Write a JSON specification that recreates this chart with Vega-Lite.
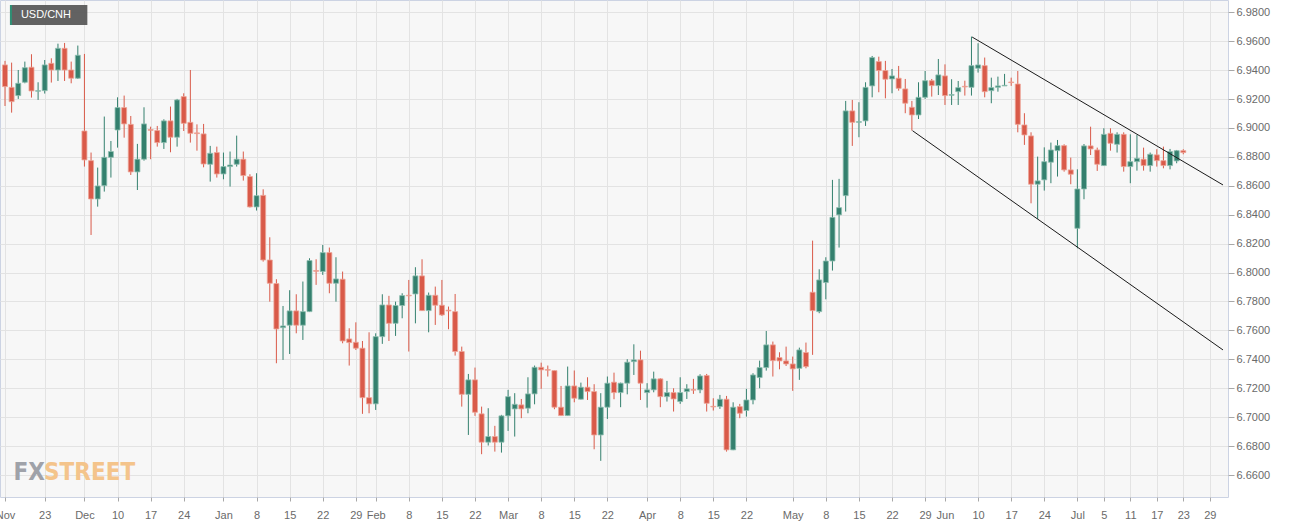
{
  "$schema": "https://vega.github.io/schema/vega-lite/v6.json",
  "width": 1228,
  "height": 497,
  "autosize": "none",
  "padding": {"left": 0, "top": 0, "right": 71, "bottom": 31},
  "background": "#ffffff",
  "config": {
    "view": {"fill": "#f7f7f7", "stroke": "#ccd3e3", "strokeWidth": 1},
    "axis": {"labelFont": "Liberation Sans", "labelFontSize": 11, "labelColor": "#6a6a6a", "gridColor": "#e3e3e3", "gridWidth": 1, "domain": false, "tickColor": "#a8a8a8", "title": null, "labelOverlap": false, "tickCount": 200},
    "axisX": {"labelFlush": true, "labelFlushOffset": -2, "tickSize": 4, "labelPadding": 8},
    "axisY": {"tickSize": 6, "labelPadding": 2}
  },
  "layer": [
    {
      "data": {
        "values": [
          {"i":0,"o":6.9436,"h":6.9464,"l":6.9152,"c":6.9286},
          {"i":1,"o":6.9281,"h":6.9452,"l":6.9106,"c":6.9182},
          {"i":2,"o":6.9224,"h":6.9401,"l":6.9201,"c":6.9309},
          {"i":3,"o":6.9316,"h":6.9459,"l":6.9309,"c":6.9417},
          {"i":4,"o":6.9420,"h":6.9510,"l":6.9210,"c":6.9256},
          {"i":5,"o":6.9254,"h":6.9316,"l":6.9194,"c":6.9258},
          {"i":6,"o":6.9258,"h":6.9470,"l":6.9238,"c":6.9436},
          {"i":7,"o":6.9447,"h":6.9482,"l":6.9314,"c":6.9401},
          {"i":8,"o":6.9401,"h":6.9583,"l":6.9325,"c":6.9551},
          {"i":9,"o":6.9551,"h":6.9588,"l":6.9325,"c":6.9401},
          {"i":10,"o":6.9401,"h":6.9459,"l":6.9309,"c":6.9344},
          {"i":11,"o":6.9344,"h":6.9570,"l":6.9339,"c":6.9503},
          {"i":12,"o":6.8979,"h":6.9512,"l":6.8733,"c":6.8779},
          {"i":13,"o":6.8774,"h":6.8830,"l":6.8260,"c":6.8509},
          {"i":14,"o":6.8509,"h":6.8726,"l":6.8456,"c":6.8599},
          {"i":15,"o":6.8601,"h":6.9079,"l":6.8560,"c":6.8797},
          {"i":16,"o":6.8797,"h":6.8910,"l":6.8657,"c":6.8837},
          {"i":17,"o":6.8986,"h":6.9212,"l":6.8864,"c":6.9141},
          {"i":18,"o":6.9141,"h":6.9224,"l":6.8933,"c":6.9028},
          {"i":19,"o":6.9025,"h":6.9083,"l":6.8675,"c":6.8696},
          {"i":20,"o":6.8696,"h":6.8890,"l":6.8571,"c":6.8784},
          {"i":21,"o":6.8784,"h":6.9143,"l":6.8774,"c":6.9028},
          {"i":22,"o":6.8989,"h":6.9009,"l":6.8784,"c":6.8984},
          {"i":23,"o":6.8982,"h":6.9014,"l":6.8871,"c":6.8899},
          {"i":24,"o":6.8899,"h":6.9060,"l":6.8855,"c":6.9049},
          {"i":25,"o":6.9049,"h":6.9148,"l":6.8832,"c":6.8936},
          {"i":26,"o":6.8936,"h":6.9201,"l":6.8871,"c":6.9194},
          {"i":27,"o":6.9217,"h":6.9240,"l":6.8979,"c":6.9032},
          {"i":28,"o":6.9039,"h":6.9401,"l":6.8899,"c":6.8963},
          {"i":29,"o":6.8966,"h":6.9025,"l":6.8843,"c":6.8961},
          {"i":30,"o":6.8959,"h":6.9028,"l":6.8728,"c":6.8751},
          {"i":31,"o":6.8749,"h":6.8876,"l":6.8629,"c":6.8825},
          {"i":32,"o":6.8830,"h":6.8871,"l":6.8657,"c":6.8682},
          {"i":33,"o":6.8682,"h":6.8830,"l":6.8645,"c":6.8733},
          {"i":34,"o":6.8733,"h":6.8837,"l":6.8595,"c":6.8744},
          {"i":35,"o":6.8749,"h":6.8947,"l":6.8733,"c":6.8784},
          {"i":36,"o":6.8784,"h":6.8837,"l":6.8636,"c":6.8671},
          {"i":37,"o":6.8664,"h":6.8680,"l":6.8450,"c":6.8454},
          {"i":38,"o":6.8454,"h":6.8687,"l":6.8429,"c":6.8532},
          {"i":39,"o":6.8534,"h":6.8576,"l":6.8076,"c":6.8087},
          {"i":40,"o":6.8087,"h":6.8244,"l":6.7799,"c":6.7926},
          {"i":41,"o":6.7924,"h":6.7954,"l":6.7373,"c":6.7610},
          {"i":42,"o":6.7619,"h":6.7769,"l":6.7396,"c":6.7631},
          {"i":43,"o":6.7636,"h":6.7878,"l":6.7437,"c":6.7735},
          {"i":44,"o":6.7735,"h":6.7850,"l":6.7580,"c":6.7636},
          {"i":45,"o":6.7636,"h":6.7938,"l":6.7534,"c":6.7730},
          {"i":46,"o":6.7730,"h":6.8099,"l":6.7727,"c":6.8083},
          {"i":47,"o":6.8014,"h":6.8092,"l":6.7915,"c":6.8009},
          {"i":48,"o":6.8007,"h":6.8191,"l":6.7984,"c":6.8138},
          {"i":49,"o":6.8138,"h":6.8173,"l":6.7857,"c":6.7926},
          {"i":50,"o":6.7926,"h":6.8106,"l":6.7799,"c":6.7956},
          {"i":51,"o":6.7954,"h":6.8007,"l":6.7511,"c":6.7527},
          {"i":52,"o":6.7541,"h":6.7615,"l":6.7357,"c":6.7516},
          {"i":53,"o":6.7518,"h":6.7656,"l":6.7465,"c":6.7477},
          {"i":54,"o":6.7477,"h":6.7527,"l":6.7023,"c":6.7135},
          {"i":55,"o":6.7135,"h":6.7587,"l":6.7027,"c":6.7092},
          {"i":56,"o":6.7092,"h":6.7580,"l":6.7050,"c":6.7557},
          {"i":57,"o":6.7557,"h":6.7850,"l":6.7507,"c":6.7776},
          {"i":58,"o":6.7776,"h":6.7839,"l":6.7527,"c":6.7649},
          {"i":59,"o":6.7649,"h":6.7799,"l":6.7562,"c":6.7772},
          {"i":60,"o":6.7772,"h":6.7857,"l":6.7684,"c":6.7841},
          {"i":61,"o":6.7843,"h":6.7949,"l":6.7454,"c":6.7839},
          {"i":62,"o":6.7852,"h":6.8037,"l":6.7649,"c":6.7977},
          {"i":63,"o":6.7977,"h":6.8092,"l":6.7735,"c":6.7737},
          {"i":64,"o":6.7737,"h":6.7862,"l":6.7587,"c":6.7843},
          {"i":65,"o":6.7843,"h":6.7903,"l":6.7638,"c":6.7774},
          {"i":66,"o":6.7774,"h":6.7949,"l":6.7700,"c":6.7707},
          {"i":67,"o":6.7740,"h":6.7765,"l":6.7608,"c":6.7735},
          {"i":68,"o":6.7730,"h":6.7852,"l":6.7426,"c":6.7454},
          {"i":69,"o":6.7454,"h":6.7488,"l":6.7073,"c":6.7158},
          {"i":70,"o":6.7158,"h":6.7299,"l":6.6877,"c":6.7258},
          {"i":71,"o":6.7258,"h":6.7343,"l":6.7009,"c":6.7034},
          {"i":72,"o":6.7023,"h":6.7073,"l":6.6744,"c":6.6827},
          {"i":73,"o":6.6827,"h":6.7062,"l":6.6804,"c":6.6866},
          {"i":74,"o":6.6866,"h":6.6940,"l":6.6762,"c":6.6827},
          {"i":75,"o":6.6827,"h":6.7016,"l":6.6755,"c":6.7009},
          {"i":76,"o":6.7009,"h":6.7189,"l":6.6905,"c":6.7142},
          {"i":77,"o":6.7057,"h":6.7166,"l":6.6866,"c":6.7089},
          {"i":78,"o":6.7085,"h":6.7126,"l":6.6993,"c":6.7057},
          {"i":79,"o":6.7062,"h":6.7276,"l":6.7027,"c":6.7161},
          {"i":80,"o":6.7161,"h":6.7357,"l":6.7089,"c":6.7345},
          {"i":81,"o":6.7345,"h":6.7377,"l":6.7196,"c":6.7327},
          {"i":82,"o":6.7329,"h":6.7357,"l":6.7281,"c":6.7325},
          {"i":83,"o":6.7322,"h":6.7323,"l":6.7055,"c":6.7069},
          {"i":84,"o":6.7069,"h":6.7216,"l":6.7009,"c":6.7011},
          {"i":85,"o":6.7011,"h":6.7350,"l":6.7009,"c":6.7216},
          {"i":86,"o":6.7216,"h":6.7323,"l":6.7103,"c":6.7131},
          {"i":87,"o":6.7124,"h":6.7239,"l":6.7122,"c":6.7207},
          {"i":88,"o":6.7207,"h":6.7276,"l":6.7119,"c":6.7177},
          {"i":89,"o":6.7177,"h":6.7228,"l":6.6778,"c":6.6877},
          {"i":90,"o":6.6877,"h":6.7166,"l":6.6698,"c":6.7069},
          {"i":91,"o":6.7069,"h":6.7281,"l":6.6988,"c":6.7235},
          {"i":92,"o":6.7242,"h":6.7308,"l":6.7124,"c":6.7170},
          {"i":93,"o":6.7170,"h":6.7239,"l":6.7069,"c":6.7235},
          {"i":94,"o":6.7235,"h":6.7401,"l":6.7158,"c":6.7380},
          {"i":95,"o":6.7384,"h":6.7504,"l":6.7292,"c":6.7396},
          {"i":96,"o":6.7396,"h":6.7460,"l":6.7119,"c":6.7235},
          {"i":97,"o":6.7170,"h":6.7235,"l":6.7066,"c":6.7189},
          {"i":98,"o":6.7189,"h":6.7315,"l":6.7172,"c":6.7265},
          {"i":99,"o":6.7265,"h":6.7269,"l":6.7069,"c":6.7142},
          {"i":100,"o":6.7142,"h":6.7251,"l":6.7108,"c":6.7170},
          {"i":101,"o":6.7170,"h":6.7200,"l":6.7039,"c":6.7126},
          {"i":102,"o":6.7108,"h":6.7276,"l":6.7092,"c":6.7170},
          {"i":103,"o":6.7177,"h":6.7228,"l":6.7126,"c":6.7196},
          {"i":104,"o":6.7191,"h":6.7265,"l":6.7161,"c":6.7187},
          {"i":105,"o":6.7189,"h":6.7297,"l":6.7166,"c":6.7285},
          {"i":106,"o":6.7288,"h":6.7299,"l":6.7039,"c":6.7096},
          {"i":107,"o":6.7075,"h":6.7131,"l":6.7046,"c":6.7071},
          {"i":108,"o":6.7073,"h":6.7154,"l":6.7057,"c":6.7124},
          {"i":109,"o":6.7124,"h":6.7147,"l":6.6762,"c":6.6774},
          {"i":110,"o":6.6774,"h":6.7103,"l":6.6772,"c":6.7069},
          {"i":111,"o":6.7073,"h":6.7092,"l":6.6993,"c":6.7027},
          {"i":112,"o":6.7046,"h":6.7196,"l":6.7004,"c":6.7119},
          {"i":113,"o":6.7119,"h":6.7304,"l":6.7089,"c":6.7292},
          {"i":114,"o":6.7274,"h":6.7391,"l":6.7200,"c":6.7343},
          {"i":115,"o":6.7343,"h":6.7596,"l":6.7322,"c":6.7500},
          {"i":116,"o":6.7500,"h":6.7523,"l":6.7281,"c":6.7391},
          {"i":117,"o":6.7412,"h":6.7449,"l":6.7331,"c":6.7389},
          {"i":118,"o":6.7389,"h":6.7488,"l":6.7354,"c":6.7368},
          {"i":119,"o":6.7368,"h":6.7419,"l":6.7182,"c":6.7334},
          {"i":120,"o":6.7338,"h":6.7481,"l":6.7258,"c":6.7465},
          {"i":121,"o":6.7447,"h":6.7516,"l":6.7338,"c":6.7350},
          {"i":122,"o":6.7864,"h":6.8221,"l":6.7431,"c":6.7737},
          {"i":123,"o":6.7730,"h":6.8023,"l":6.7719,"c":6.7949},
          {"i":124,"o":6.7931,"h":6.8106,"l":6.7815,"c":6.8080},
          {"i":125,"o":6.8080,"h":6.8641,"l":6.8014,"c":6.8382},
          {"i":126,"o":6.8399,"h":6.8648,"l":6.8173,"c":6.8449},
          {"i":127,"o":6.8532,"h":6.9187,"l":6.8422,"c":6.9118},
          {"i":128,"o":6.9118,"h":6.9194,"l":6.8876,"c":6.9039},
          {"i":129,"o":6.9039,"h":6.9178,"l":6.8936,"c":6.9044},
          {"i":130,"o":6.9049,"h":6.9316,"l":6.9014,"c":6.9281},
          {"i":131,"o":6.9291,"h":6.9498,"l":6.9212,"c":6.9487},
          {"i":132,"o":6.9459,"h":6.9493,"l":6.9247,"c":6.9397},
          {"i":133,"o":6.9397,"h":6.9464,"l":6.9205,"c":6.9337},
          {"i":134,"o":6.9339,"h":6.9408,"l":6.9240,"c":6.9360},
          {"i":135,"o":6.9344,"h":6.9429,"l":6.9258,"c":6.9274},
          {"i":136,"o":6.9270,"h":6.9339,"l":6.9102,"c":6.9171},
          {"i":137,"o":6.9143,"h":6.9187,"l":6.8982,"c":6.9090},
          {"i":138,"o":6.9090,"h":6.9316,"l":6.9062,"c":6.9212},
          {"i":139,"o":6.9212,"h":6.9394,"l":6.9201,"c":6.9327},
          {"i":140,"o":6.9327,"h":6.9339,"l":6.9217,"c":6.9293},
          {"i":141,"o":6.9293,"h":6.9477,"l":6.9228,"c":6.9367},
          {"i":142,"o":6.9360,"h":6.9440,"l":6.9159,"c":6.9224},
          {"i":143,"o":6.9226,"h":6.9337,"l":6.9159,"c":6.9231},
          {"i":144,"o":6.9251,"h":6.9325,"l":6.9159,"c":6.9279},
          {"i":145,"o":6.9288,"h":6.9327,"l":6.9224,"c":6.9284},
          {"i":146,"o":6.9281,"h":6.9632,"l":6.9224,"c":6.9431},
          {"i":147,"o":6.9413,"h":6.9586,"l":6.9383,"c":6.9436},
          {"i":148,"o":6.9431,"h":6.9487,"l":6.9212,"c":6.9251},
          {"i":149,"o":6.9258,"h":6.9348,"l":6.9171,"c":6.9279},
          {"i":150,"o":6.9281,"h":6.9355,"l":6.9251,"c":6.9291},
          {"i":151,"o":6.9291,"h":6.9374,"l":6.9290,"c":6.9295},
          {"i":152,"o":6.9318,"h":6.9348,"l":6.9291,"c":6.9314},
          {"i":153,"o":6.9304,"h":6.9394,"l":6.8970,"c":6.9025},
          {"i":154,"o":6.9021,"h":6.9102,"l":6.8883,"c":6.8952},
          {"i":155,"o":6.8945,"h":6.8970,"l":6.8479,"c":6.8611},
          {"i":156,"o":6.8611,"h":6.8802,"l":6.8371,"c":6.8634},
          {"i":157,"o":6.8641,"h":6.8866,"l":6.8567,"c":6.8767},
          {"i":158,"o":6.8763,"h":6.8899,"l":6.8618,"c":6.8848},
          {"i":159,"o":6.8843,"h":6.8917,"l":6.8664,"c":6.8878},
          {"i":160,"o":6.8878,"h":6.8887,"l":6.8698,"c":6.8710},
          {"i":161,"o":6.8710,"h":6.8795,"l":6.8611,"c":6.8680},
          {"i":162,"o":6.8306,"h":6.8714,"l":6.8168,"c":6.8578},
          {"i":163,"o":6.8578,"h":6.8889,"l":6.8507,"c":6.8876},
          {"i":164,"o":6.8876,"h":6.9009,"l":6.8813,"c":6.8855},
          {"i":165,"o":6.8848,"h":6.8864,"l":6.8703,"c":6.8749},
          {"i":166,"o":6.8740,"h":6.8998,"l":6.8738,"c":6.8956},
          {"i":167,"o":6.8963,"h":6.8998,"l":6.8843,"c":6.8894},
          {"i":168,"o":6.8887,"h":6.8970,"l":6.8830,"c":6.8956},
          {"i":169,"o":6.8956,"h":6.8970,"l":6.8698,"c":6.8733},
          {"i":170,"o":6.8733,"h":6.8956,"l":6.8618,"c":6.8767},
          {"i":171,"o":6.8767,"h":6.8952,"l":6.8705,"c":6.8790},
          {"i":172,"o":6.8784,"h":6.8864,"l":6.8705,"c":6.8740},
          {"i":173,"o":6.8740,"h":6.8830,"l":6.8698,"c":6.8818},
          {"i":174,"o":6.8814,"h":6.8853,"l":6.8733,"c":6.8774},
          {"i":175,"o":6.8774,"h":6.8871,"l":6.8721,"c":6.8740},
          {"i":176,"o":6.8740,"h":6.8855,"l":6.8714,"c":6.8837},
          {"i":177,"o":6.8772,"h":6.8848,"l":6.8756,"c":6.8843},
          {"i":178,"o":6.8843,"h":6.8853,"l":6.8818,"c":6.8830}
        ]
      },
      "encoding": {
        "x": {"field": "i", "type": "quantitative", "scale": {"domain": [0, 184], "nice": false, "zero": false},
          "axis": {"orient": "bottom", "grid": true, "tickCount": 200, "labelOverlap": false,
            "values": [0,6,12,17,22,27,33,38,43,48,53,56,61,66,71,76,81,86,91,97,102,107,112,119,124,129,134,139,142,147,152,157,162,166,170,174,178,182],
            "labelExpr": "['Nov','23','Dec','10','17','24','Jan','8','15','22','29','Feb','8','15','22','Mar','8','15','22','Apr','8','15','22','May','8','15','22','29','Jun','10','17','24','Jul','5','11','17','23','29'][indexof([0,6,12,17,22,27,33,38,43,48,53,56,61,66,71,76,81,86,91,97,102,107,112,119,124,129,134,139,142,147,152,157,162,166,170,174,178,182], datum.value)]"}},
        "y": {"field": "l", "type": "quantitative", "scale": {"domain": [6.6448, 6.9885], "nice": false, "zero": false},
          "axis": {"orient": "right", "grid": true, "format": ".4f", "tickCount": 200, "labelOverlap": false,
            "values": [6.66,6.68,6.70,6.72,6.74,6.76,6.78,6.80,6.82,6.84,6.86,6.88,6.90,6.92,6.94,6.96,6.98]}}
      },
      "layer": [
        {
          "mark": {"type": "rule", "strokeWidth": 1, "clip": true},
          "encoding": {
            "y2": {"field": "h"},
            "color": {"condition": {"test": "datum.c >= datum.o", "value": "#34806e"}, "value": "#d95a49"}
          }
        },
        {
          "mark": {"type": "bar", "size": 5, "strokeWidth": 0.8, "clip": true},
          "encoding": {
            "y": {"field": "o", "type": "quantitative"},
            "y2": {"field": "c"},
            "fill": {"condition": {"test": "datum.c >= datum.o", "value": "#34806e"}, "value": "#d95a49"},
            "stroke": {"condition": {"test": "datum.c >= datum.o", "value": "#8fbfb1"}, "value": "#eea497"}
          }
        }
      ]
    },
    {
      "data": {"values": [
        {"i": 146.1, "v": 6.9629, "i2": 184, "v2": 6.8606},
        {"i": 137.1, "v": 6.8981, "i2": 184, "v2": 6.7465}
      ]},
      "mark": {"type": "rule", "color": "#1a1a1a", "strokeWidth": 1, "clip": true},
      "encoding": {
        "x": {"field": "i", "type": "quantitative"},
        "x2": {"field": "i2"},
        "y": {"field": "v", "type": "quantitative"},
        "y2": {"field": "v2"}
      }
    },
    {
      "data": {"values": [{}]},
      "mark": {"type": "rect", "color": "#5a5a5a", "opacity": 0.95},
      "encoding": {
        "x": {"datum": 0.75, "type": "quantitative"},
        "x2": {"datum": 12.44},
        "y": {"datum": 6.98505, "type": "quantitative"},
        "y2": {"datum": 6.97122}
      }
    },
    {
      "data": {"values": [{}]},
      "mark": {"type": "rect", "color": "#2f8f74"},
      "encoding": {
        "x": {"datum": 0.75, "type": "quantitative"},
        "x2": {"datum": 1.05},
        "y": {"datum": 6.98505, "type": "quantitative"},
        "y2": {"datum": 6.97122}
      }
    },
    {
      "data": {"values": [{}]},
      "mark": {"type": "text", "text": "USD/CNH", "color": "#ffffff", "font": "Liberation Sans", "fontSize": 11, "align": "left", "baseline": "middle"},
      "encoding": {
        "x": {"datum": 2.4, "type": "quantitative"},
        "y": {"datum": 6.97813, "type": "quantitative"}
      }
    },
    {
      "data": {"values": [{}]},
      "mark": {"type": "text", "text": "FX", "color": "#9fa2a9", "font": "Liberation Sans Narrow, DejaVu Sans Condensed, sans-serif", "fontWeight": "bold", "fontSize": 24, "align": "left", "baseline": "alphabetic"},
      "encoding": {
        "x": {"datum": 1.3, "type": "quantitative"},
        "y": {"datum": 6.6566, "type": "quantitative"}
      }
    },
    {
      "data": {"values": [{}]},
      "mark": {"type": "text", "text": "STREET", "color": "#f4c48b", "font": "Liberation Sans Narrow, DejaVu Sans Condensed, sans-serif", "fontWeight": "bold", "fontSize": 24, "align": "left", "baseline": "alphabetic"},
      "encoding": {
        "x": {"datum": 5.9, "type": "quantitative"},
        "y": {"datum": 6.6566, "type": "quantitative"}
      }
    }
  ]
}
